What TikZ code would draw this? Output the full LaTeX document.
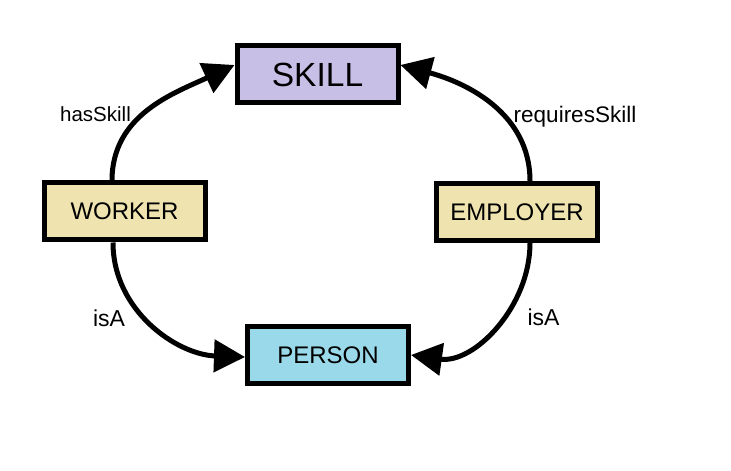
\documentclass[tikz,border=0pt]{standalone}
\usepackage{fontspec}
\setmainfont{Liberation Sans}
\usetikzlibrary{arrows.meta}
\definecolor{lav}{HTML}{C8BFE7}
\definecolor{beige}{HTML}{EFE4B0}
\definecolor{lblue}{HTML}{99D9EA}
\begin{document}
\begin{tikzpicture}[x=1pt,y=1pt,
  box/.style={draw=black,line width=5pt,minimum width=161pt,minimum height=57pt,inner sep=0pt},
  conn/.style={line width=5pt,-{Triangle[length=31pt,width=32pt]}},
  lbl/.style={anchor=base,inner sep=0pt,font=\fontsize{20.5}{24}\selectfont}]
\useasboundingbox[fill=white] (0,0) rectangle (731,471);
\node[box,fill=lav,font=\fontsize{33.5}{38}\selectfont] (skill) at (317.5,396.5) {SKILL};
\node[box,fill=beige,font=\fontsize{24}{29}\selectfont] (worker) at (124.5,259.5) {WORKER};
\node[box,fill=beige,font=\fontsize{24}{29}\selectfont] (employer) at (517,259) {EMPLOYER};
\node[box,fill=lblue,font=\fontsize{24}{29}\selectfont] (person) at (328,116) {PERSON};
\draw[conn] ([xshift=-12.5pt]worker.north) to[out=90,in=205] ([yshift=9.5pt]skill.west);
\draw[conn] ([xshift=13pt]employer.north) to[out=90,in=-15] ([yshift=9.5pt]skill.east);
\draw[conn] ([xshift=-11.5pt]worker.south) to[out=-90,in=178] ([yshift=-2pt]person.west);
\draw[conn] ([xshift=13pt]employer.south) to[out=-90,in=-8] ([yshift=0pt]person.east);
\node[lbl] (l1) at (95.5,349) {hasSkill};
\node[lbl,font=\fontsize{22.5}{26}\selectfont] (l2) at (575,348) {requiresSkill};
\node[lbl,font=\fontsize{23}{27}\selectfont] (l3) at (109,144) {isA};
\node[lbl,font=\fontsize{23}{27}\selectfont] (l4) at (543.5,145) {isA};
\end{tikzpicture}
\end{document}
